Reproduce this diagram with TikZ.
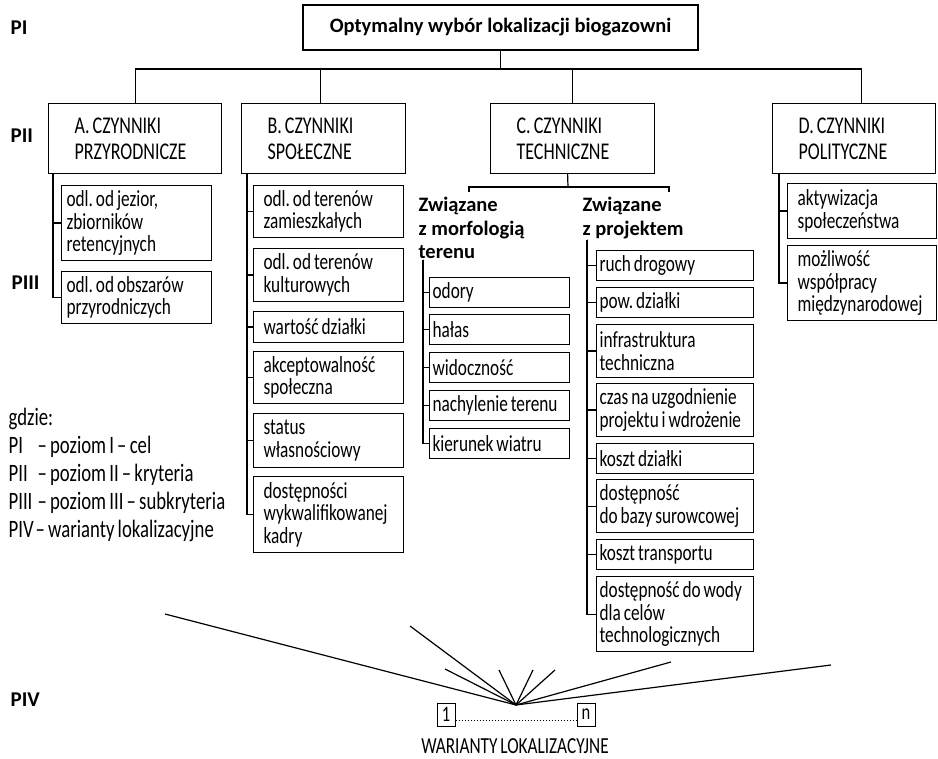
\documentclass[tikz,border=0pt]{standalone}
\usepackage{fontspec}
\setmainfont{Carlito}[FakeStretch=0.75, WordSpace=0.75]
\newfontfamily\boldfam{Carlito}
\frenchspacing
\begin{document}
\begin{tikzpicture}
[x=1pt, y=-1pt, line width=1.2pt,
 krit/.style={draw, anchor=north west, align=flush left, inner xsep=26pt, minimum height=70pt, font=\fontsize{24}{26.5}\selectfont},
 sub/.style={draw, anchor=north west, align=flush left, inner ysep=2pt, font=\fontsize{23}{22.5}\selectfont},
 lvl/.style={anchor=west, inner sep=0pt, font=\boldfam\bfseries\fontsize{21}{24}\selectfont},
 head/.style={anchor=north west, align=left, inner sep=0pt, font=\boldfam\bfseries\fontsize{20.5}{23.5}\selectfont},
 num/.style={draw, line width=1pt, inner sep=0pt, minimum width=18pt, minimum height=23pt, font=\fontsize{22}{22}\selectfont}]
\useasboundingbox (0,0) rectangle (938,759);
% poziomy
\node[lvl] (PI) at (10,28) {PI};
\node[lvl] (PII) at (10,136) {PII};
\node[lvl] (PIII) at (11,283) {PIII};
\node[lvl] (PIV) at (10,700) {PIV};
% cel
\node[draw, minimum width=395pt, minimum height=45pt, font=\boldfam\bfseries\fontsize{20.5}{24}\selectfont] (goal) at (500.5,27.5) {Optymalny wybór lokalizacji biogazowni};
% kryteria
\node[krit, text width=121pt] (A) at (48,103) {A. CZYNNIKI\\PRZYRODNICZE};
\node[krit, text width=112pt] (B) at (241,103) {B. CZYNNIKI\\SPOŁECZNE};
\node[krit, text width=112pt] (C) at (490,103) {C. CZYNNIKI\\TECHNICZNE};
\node[krit, text width=111pt] (D) at (772,103) {D. CZYNNIKI\\POLITYCZNE};
\coordinate (bar) at (500.5,69);
\draw (goal.south) -- (bar);
\draw (A.north) |- (bar);
\draw ([xshift=-3pt]B.north) |- (bar);
\draw (C.north) |- (bar);
\draw ([xshift=7.5pt]D.north) |- (bar);
% subkryteria A
\node[sub, inner xsep=5pt, text width=140pt, minimum height=75pt] (a1) at (61,185) {odl. od jezior,\\zbiorników\\retencyjnych};
\node[sub, inner xsep=5pt, text width=140pt, minimum height=52pt] (a2) at (61,271) {odl. od obszarów\\przyrodniczych};
\draw ([xshift=5pt]A.south west) |- (a1.west);
\draw ([xshift=5pt]A.south west) |- (a2.west);
% subkryteria B
\node[sub, inner xsep=10pt, text width=130pt, minimum height=52pt] (b1) at (253,185) {odl. od terenów\\zamieszkałych};
\node[sub, inner xsep=10pt, text width=130pt, minimum height=53pt] (b2) at (253,248) {odl. od terenów\\kulturowych};
\node[sub, inner xsep=10pt, text width=130pt, minimum height=31pt] (b3) at (253,311) {wartość działki};
\node[sub, inner xsep=10pt, text width=130pt, minimum height=52pt] (b4) at (253,351) {akceptowalność\\społeczna};
\node[sub, inner xsep=10pt, text width=130pt, minimum height=54pt] (b5) at (253,413) {status\\własnościowy};
\node[sub, inner xsep=10pt, text width=130pt, minimum height=76pt] (b6) at (253,476) {dostępności\\wykwalifikowanej\\kadry};
\draw ([xshift=6pt]B.south west) |- (b1.west);
\draw ([xshift=6pt]B.south west) |- (b2.west);
\draw ([xshift=6pt]B.south west) |- (b3.west);
\draw ([xshift=6pt]B.south west) |- (b4.west);
\draw ([xshift=6pt]B.south west) |- (b5.west);
\draw ([xshift=6pt]B.south west) |- (b6.west);
% subkryteria C
\coordinate (cbar) at (568,187);
\coordinate (mtop) at (469,192);
\coordinate (ptop) at (669,192);
\draw ([xshift=-5pt]C.south) -- (cbar);
\draw (mtop) |- (cbar) -| (ptop);
\node[head] (morph) at (418,197) {Związane\\z morfologią\\terenu};
\node[head] (proj) at (582,197) {Związane\\z projektem};
\node[sub, inner xsep=3pt, text width=134pt, minimum height=30pt] (m1) at (429,277) {odory};
\node[sub, inner xsep=3pt, text width=134pt, minimum height=30pt] (m2) at (429,314) {hałas};
\node[sub, inner xsep=3pt, text width=134pt, minimum height=30pt] (m3) at (429,352) {widoczność};
\node[sub, inner xsep=3pt, text width=134pt, minimum height=30pt] (m4) at (429,390) {nachylenie terenu};
\node[sub, inner xsep=3pt, text width=134pt, minimum height=30pt] (m5) at (429,428) {kierunek wiatru};
\draw ([xshift=5pt]morph.south west) |- (m1.west);
\draw ([xshift=5pt]morph.south west) |- (m2.west);
\draw ([xshift=5pt]morph.south west) |- (m3.west);
\draw ([xshift=5pt]morph.south west) |- (m4.west);
\draw ([xshift=5pt]morph.south west) |- (m5.west);
\node[sub, inner xsep=3pt, text width=151pt, minimum height=30pt] (p1) at (596,250) {ruch drogowy};
\node[sub, inner xsep=3pt, text width=151pt, minimum height=30pt] (p2) at (596,287) {pow. działki};
\node[sub, inner xsep=3pt, text width=151pt, minimum height=53pt] (p3) at (596,324) {infrastruktura\\techniczna};
\node[sub, inner xsep=3pt, text width=151pt, minimum height=53pt] (p4) at (596,383) {czas na uzgodnienie\\projektu i wdrożenie};
\node[sub, inner xsep=3pt, text width=151pt, minimum height=30pt] (p5) at (596,443) {koszt działki};
\node[sub, inner xsep=3pt, text width=151pt, minimum height=53pt] (p6) at (596,479) {dostępność\\do bazy surowcowej};
\node[sub, inner xsep=3pt, text width=151pt, minimum height=30pt] (p7) at (596,539) {koszt transportu};
\node[sub, inner xsep=3pt, text width=151pt, minimum height=75pt] (p8) at (596,576) {dostępność do wody\\dla celów\\technologicznych};
\draw ([xshift=5pt]proj.south west) |- (p1.west);
\draw ([xshift=5pt]proj.south west) |- (p2.west);
\draw ([xshift=5pt]proj.south west) |- (p3.west);
\draw ([xshift=5pt]proj.south west) |- (p4.west);
\draw ([xshift=5pt]proj.south west) |- (p5.west);
\draw ([xshift=5pt]proj.south west) |- (p6.west);
\draw ([xshift=5pt]proj.south west) |- (p7.west);
\draw ([xshift=5pt]proj.south west) |- (p8.west);
% subkryteria D
\node[sub, inner xsep=10pt, text width=129pt, minimum height=55pt] (d1) at (787,183) {aktywizacja\\społeczeństwa};
\node[sub, inner xsep=10pt, text width=129pt, minimum height=75pt] (d2) at (787,245) {możliwość\\współpracy\\międzynarodowej};
\draw ([xshift=7pt]D.south west) |- (d1.west);
\draw ([xshift=7pt]D.south west) |- (d2.west);
% legenda
\node[anchor=north west, align=left, inner sep=0pt, font=\fontsize{25}{28}\selectfont] (legend) at (8,408)
 {gdzie:\\
  \makebox[29pt][l]{PI}– poziom I – cel\\
  \makebox[29pt][l]{PII}– poziom II – kryteria\\
  \makebox[29pt][l]{PIII}– poziom III – subkryteria\\
  \makebox[27pt][l]{PIV}– warianty lokalizacyjne};
% warianty
\coordinate (fan) at (516,705);
\coordinate (f1) at (165,614);
\coordinate (f2) at (410,626);
\coordinate (f3) at (445,669);
\coordinate (f4) at (499,670);
\coordinate (f5) at (533,670);
\coordinate (f6) at (555,670);
\coordinate (f7) at (671,662);
\coordinate (f8) at (831,665);
\draw (f1) -- (fan);
\draw (f2) -- (fan);
\draw (f3) -- (fan);
\draw (f4) -- (fan);
\draw (f5) -- (fan);
\draw (f6) -- (fan);
\draw (f7) -- (fan);
\draw (f8) -- (fan);
\node[num] (v1) at (446,714.5) {1};
\node[num] (vn) at (586,714.5) {n};
\draw[dash pattern=on 1.3pt off 1.7pt, line width=1.3pt] ([yshift=-6pt]v1.east) -- ([yshift=-6pt]vn.west);
\node[anchor=base, inner sep=0pt, font=\fontsize{23}{24}\selectfont] (war) at (515,753.5) {WARIANTY LOKALIZACYJNE};
\end{tikzpicture}
\end{document}
